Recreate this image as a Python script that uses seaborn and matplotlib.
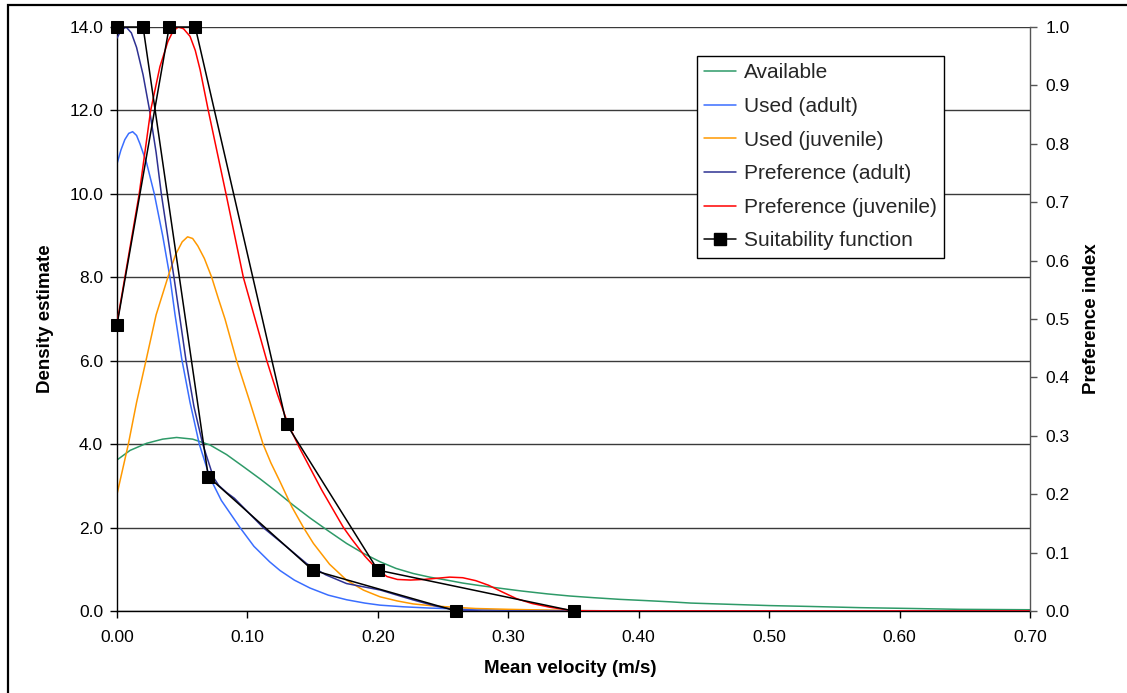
import numpy as np
import pandas as pd
import matplotlib
matplotlib.use("Agg")
import matplotlib.pyplot as plt
import seaborn as sns
from matplotlib.lines import Line2D
from matplotlib.patches import Rectangle
from matplotlib.ticker import FormatStrFormatter

# ---------------- data ----------------
# Density curves (left axis, density estimate)
avail_x = [0, 0.01, 0.0227, 0.035, 0.0457, 0.058, 0.0713, 0.084, 0.0969, 0.11, 0.1224, 0.135,
           0.148, 0.162, 0.176, 0.189, 0.2017, 0.214, 0.227, 0.24, 0.253, 0.265, 0.278, 0.295,
           0.31, 0.33, 0.347, 0.365, 0.385, 0.405, 0.424, 0.44, 0.46, 0.48, 0.50, 0.53, 0.57,
           0.61, 0.646, 0.70]
avail_y = [3.62, 3.85, 4.02, 4.12, 4.16, 4.12, 3.98, 3.75, 3.46, 3.16, 2.86, 2.54,
           2.23, 1.92, 1.62, 1.38, 1.18, 1.02, 0.90, 0.81, 0.74, 0.67, 0.61, 0.54,
           0.48, 0.41, 0.36, 0.32, 0.28, 0.25, 0.22, 0.19, 0.17, 0.15, 0.13, 0.11, 0.08,
           0.06, 0.04, 0.03]

used_adult_x = [0, 0.003, 0.006, 0.009, 0.012, 0.015, 0.0176, 0.0227, 0.0286, 0.035, 0.0406,
                0.0445, 0.0496, 0.056, 0.0631, 0.0712, 0.08, 0.0943, 0.105, 0.117, 0.125, 0.136,
                0.148, 0.162, 0.176, 0.19, 0.2017, 0.22, 0.24, 0.27, 0.30, 0.35, 0.40, 0.50, 0.70]
used_adult_y = [10.72, 11.05, 11.3, 11.45, 11.49, 11.4, 11.2, 10.74, 10.0, 9.0, 8.0,
                7.1, 6.05, 5.0, 4.0, 3.2, 2.65, 2.0, 1.55, 1.18, 0.97, 0.74,
                0.55, 0.38, 0.27, 0.19, 0.14, 0.10, 0.07, 0.04, 0.02, 0.01, 0.0, 0.0, 0.0]

used_juv_x = [0, 0.0087, 0.015, 0.0222, 0.030, 0.035, 0.040, 0.045, 0.050, 0.0541, 0.058, 0.062,
              0.067, 0.0726, 0.0776, 0.0828, 0.0917, 0.102, 0.112, 0.118, 0.125, 0.134, 0.143,
              0.1506, 0.163, 0.176, 0.189, 0.2017, 0.215, 0.227, 0.24, 0.253, 0.275, 0.30,
              0.35, 0.40, 0.70]
used_juv_y = [2.8, 4.0, 5.0, 6.0, 7.1, 7.6, 8.1, 8.55, 8.85, 8.97, 8.93, 8.75,
              8.45, 8.0, 7.5, 7.0, 6.0, 5.0, 4.0, 3.55, 3.1, 2.5, 2.0,
              1.62, 1.12, 0.74, 0.50, 0.34, 0.24, 0.17, 0.13, 0.10, 0.06, 0.04,
              0.01, 0.0, 0.0]

# Preference curves (right axis, preference index)
pref_adult_x = [0, 0.003, 0.007, 0.011, 0.015, 0.020, 0.025, 0.030, 0.034, 0.039, 0.0437, 0.048,
                0.0529, 0.059, 0.0657, 0.0739, 0.078, 0.084, 0.09, 0.112, 0.13, 0.1455, 0.16,
                0.176, 0.19, 0.2017, 0.215, 0.227, 0.245, 0.26, 0.28, 0.70]
pref_adult_y = [0.981, 0.994, 1.0, 0.99, 0.965, 0.918, 0.857, 0.785, 0.714, 0.64, 0.571, 0.505,
                0.429, 0.35, 0.286, 0.229, 0.215, 0.203, 0.193, 0.143, 0.110, 0.081, 0.062,
                0.047, 0.041, 0.036, 0.027, 0.019, 0.008, 0.002, 0.0, 0.0]

pref_juv_x = [0, 0.006, 0.017, 0.0258, 0.0329, 0.039, 0.043, 0.047, 0.051, 0.056, 0.060, 0.0637,
              0.070, 0.0836, 0.0969, 0.106, 0.1148, 0.123, 0.131, 0.140, 0.157, 0.1736, 0.18,
              0.19, 0.20, 0.207, 0.215, 0.225, 0.235, 0.245, 0.255, 0.265, 0.275, 0.285, 0.295,
              0.3065, 0.318, 0.332, 0.342, 0.35, 0.36, 0.70]
pref_juv_y = [0.493, 0.571, 0.714, 0.857, 0.932, 0.975, 0.993, 1.0, 0.997, 0.984, 0.96, 0.927,
              0.857, 0.714, 0.571, 0.499, 0.429, 0.371, 0.321, 0.279, 0.207, 0.143, 0.123,
              0.094, 0.070, 0.059, 0.054, 0.053, 0.054, 0.056, 0.058, 0.057, 0.052, 0.044, 0.033,
              0.021, 0.013, 0.0064, 0.003, 0.001, 0.0, 0.0]

# Suitability functions (right axis)
suit_adult_x = [0.0, 0.02, 0.07, 0.15, 0.26]
suit_adult_y = [1.0, 1.0, 0.23, 0.07, 0.0]
suit_juv_x = [0.0, 0.04, 0.06, 0.13, 0.20, 0.35]
suit_juv_y = [0.49, 1.0, 1.0, 0.32, 0.07, 0.0]

labels = ["Available", "Used (adult)", "Used (juvenile)", "Preference (adult)",
          "Preference (juvenile)", "Suitability function"]
colors = ["#2E9A68", "#3A6EFF", "#FF9900", "#2E3192", "#FF0000", "#000000"]

x_ticks = [0.0, 0.1, 0.2, 0.3, 0.4, 0.5, 0.6, 0.7]
y_ticks = [0, 2, 4, 6, 8, 10, 12, 14]
y2_ticks = [0.0, 0.1, 0.2, 0.3, 0.4, 0.5, 0.6, 0.7, 0.8, 0.9, 1.0]

# ---------------- plot ----------------
sns.set_style("white")
plt.rcParams["font.family"] = ["Liberation Sans", "DejaVu Sans"]

W, H = 1127, 693
fig = plt.figure(figsize=(W / 100, H / 100), dpi=100)
ax = fig.add_axes([117 / W, 1 - 611 / H, 913 / W, 584 / H])
ax2 = ax.twinx()

lw = 1.1
def draw(axis, xs, ys, color, **kw):
    df = pd.DataFrame({"x": xs, "y": ys})
    sns.lineplot(data=df, x="x", y="y", ax=axis, color=color, sort=False,
                 estimator=None, linewidth=lw, legend=False, **kw)

draw(ax, avail_x, avail_y, colors[0])
draw(ax, used_adult_x, used_adult_y, colors[1])
draw(ax, used_juv_x, used_juv_y, colors[2])
draw(ax2, pref_adult_x, pref_adult_y, colors[3])
draw(ax2, pref_juv_x, pref_juv_y, colors[4])
for sx, sy in [(suit_adult_x, suit_adult_y), (suit_juv_x, suit_juv_y)]:
    draw(ax2, sx, sy, colors[5], marker="s", markersize=8, markeredgecolor="black",
         markerfacecolor="black", clip_on=False)

ax.set_xlim(0, 0.7)
ax.set_ylim(0, 14)
ax2.set_ylim(0, 1)
ax.set_xticks(x_ticks)
ax.set_yticks(y_ticks)
ax2.set_yticks(y2_ticks)
ax.xaxis.set_major_formatter(FormatStrFormatter("%.2f"))
ax.yaxis.set_major_formatter(FormatStrFormatter("%.1f"))
ax2.yaxis.set_major_formatter(FormatStrFormatter("%.1f"))

ax.yaxis.grid(True, color="#3a3a3a", linewidth=1.0)
ax.xaxis.grid(False)
ax.set_axisbelow(True)

for s in ["top", "right"]:
    ax.spines[s].set_visible(False)
for s in ["left", "bottom"]:
    ax.spines[s].set_color("black")
    ax.spines[s].set_linewidth(1.0)
for s in ["top", "left", "bottom"]:
    ax2.spines[s].set_visible(False)
ax2.spines["right"].set_color("#555555")
ax2.spines["right"].set_linewidth(1.0)

ax.tick_params(axis="x", bottom=True, direction="out", length=5, width=1, color="black",
               labelsize=12.5, pad=9, labelcolor="black")
ax.tick_params(axis="y", left=True, direction="out", length=5, width=1, color="black",
               labelsize=12.5, pad=5, labelcolor="black")
ax2.tick_params(axis="y", right=True, direction="out", length=5, width=1, color="#555555",
                labelsize=12.5, pad=6, labelcolor="black")

ax.set_xlabel("Mean velocity (m/s)", fontsize=13.5, fontweight="bold", color="black")
ax.set_ylabel("Density estimate", fontsize=13.5, fontweight="bold", color="black")
ax2.set_ylabel("Preference index", fontsize=13.5, fontweight="bold", color="black")
ax.xaxis.set_label_coords((570 - 117) / 913, (611 - 660) / 584)
ax.yaxis.set_label_coords((54 - 117) / 913, 0.5)
ax2.yaxis.set_label_coords((1083 - 117) / 913, 0.5)

handles = [Line2D([], [], color=c, lw=lw) for c in colors[:5]]
handles.append(Line2D([], [], color="black", lw=lw, marker="s", markersize=8))
leg = ax2.legend(handles, labels, loc="upper left", bbox_to_anchor=(0.635, 0.950),
                 frameon=True, fancybox=False, edgecolor="black", framealpha=1,
                 fontsize=15, handlelength=1.55, handletextpad=0.35, labelspacing=0.7,
                 borderpad=0.35, borderaxespad=0)
leg.get_frame().set_linewidth(1.0)

fig.add_artist(Rectangle((8 / W, -0.01), 1.2, (1 - 5 / H) + 0.01, transform=fig.transFigure,
                         fill=False, edgecolor="black", linewidth=1.6))

fig.savefig("out.png", dpi=100)
